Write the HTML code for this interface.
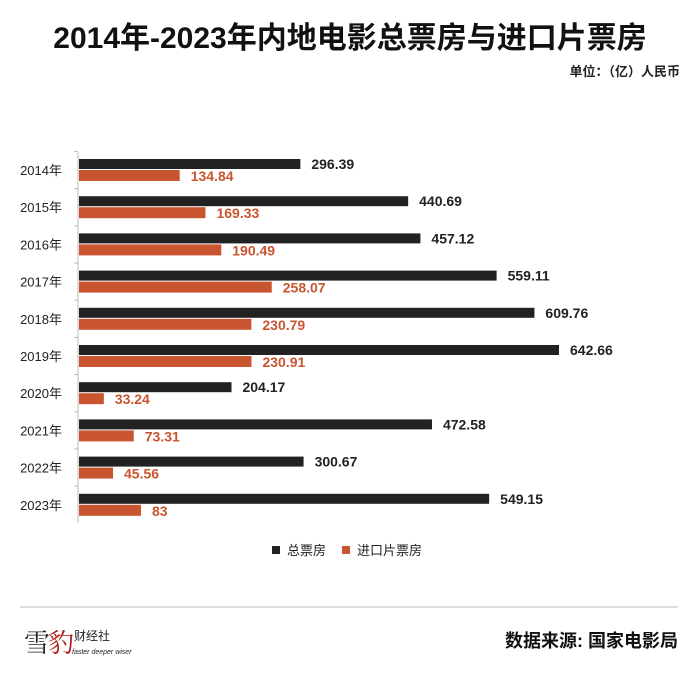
<!DOCTYPE html>
<html><head><meta charset="utf-8"><style>
body{margin:0;background:#fff;width:700px;height:672px;overflow:hidden;font-family:"Liberation Sans","Noto Sans CJK SC",sans-serif}
</style></head><body>
<svg width="700" height="672" xmlns="http://www.w3.org/2000/svg" style="font-family:'Liberation Sans','Noto Sans CJK SC',sans-serif">
<text x="350" y="48" text-anchor="middle" font-size="30" font-weight="bold" fill="#111">2014年-2023年内地电影总票房与进口片票房</text>
<text x="680" y="76" text-anchor="end" font-size="13" font-weight="bold" fill="#222">单位：（亿）人民币</text>
<g id="plot"></g>
<g>
<rect x="272" y="546" width="8" height="8" fill="#222"/>
<text x="287" y="555" font-size="13" fill="#222">总票房</text>
<rect x="342" y="546" width="8" height="8" fill="#c95530"/>
<text x="357" y="555" font-size="13" fill="#222">进口片票房</text>
</g>
<line x1="20" y1="607" x2="678" y2="607" stroke="#ddd" stroke-width="2"/>
<text x="24" y="652" font-size="26" font-family="'Noto Serif CJK SC',serif" fill="#222">雪</text>
<text x="48" y="652" font-size="26" font-family="'Noto Serif CJK SC',serif" fill="#b01818">豹</text>
<text x="74" y="640" font-size="12" fill="#222">财经社</text>
<text x="72" y="654" font-size="7" font-style="italic" fill="#222">faster deeper wiser</text>
<text x="678" y="647" text-anchor="end" font-size="18" font-weight="bold" fill="#111">数据来源: 国家电影局</text>
</svg>
<script>
const categories=["2014年","2015年","2016年","2017年","2018年","2019年","2020年","2021年","2022年","2023年"];
const totalValues=[296.39,440.69,457.12,559.11,609.76,642.66,204.17,472.58,300.67,549.15];
const importValues=[134.84,169.33,190.49,258.07,230.79,230.91,33.24,73.31,45.56,83];
const x0=79, pxPerUnit=480/642.66, y0=170, step=37.2;
const xs=v=>v*pxPerUnit;
const ys=i=>y0+i*step;
const NS="http://www.w3.org/2000/svg";
const g=document.getElementById('plot');
function mk(t,a){const e=document.createElementNS(NS,t);for(const k in a)e.setAttribute(k,a[k]);g.appendChild(e);return e;}
const ax=mk('line',{x1:78,y1:ys(0)-18,x2:78,y2:ys(categories.length-1)+18,stroke:'#bbb','stroke-width':1});


categories.forEach((c,i)=>{
  const y=ys(i);
  const t=mk('line',{x1:74,y1:y-18.6,x2:78,y2:y-18.6,stroke:'#bbb'});
  
  
  const l=mk('text',{x:62,y:y+5,'text-anchor':'end','font-size':13,fill:'#222'});l.textContent=c;
  
  
  const b=mk('rect',{x:x0,y:y-11,width:xs(totalValues[i]),height:10,fill:'#222'});
  
  
  const o=mk('rect',{x:x0,y:y,width:xs(importValues[i]),height:11,fill:'#c95530'});
  
  
  const tv=mk('text',{x:x0+xs(totalValues[i])+11,y:y-1,'font-size':14,'font-weight':'bold',fill:'#222'});tv.textContent=totalValues[i];
  
  
  const iv=mk('text',{x:x0+xs(importValues[i])+11,y:y+11,'font-size':14,'font-weight':'bold',fill:'#c95530'});iv.textContent=importValues[i];
  
  
});
</script>
</body></html>
